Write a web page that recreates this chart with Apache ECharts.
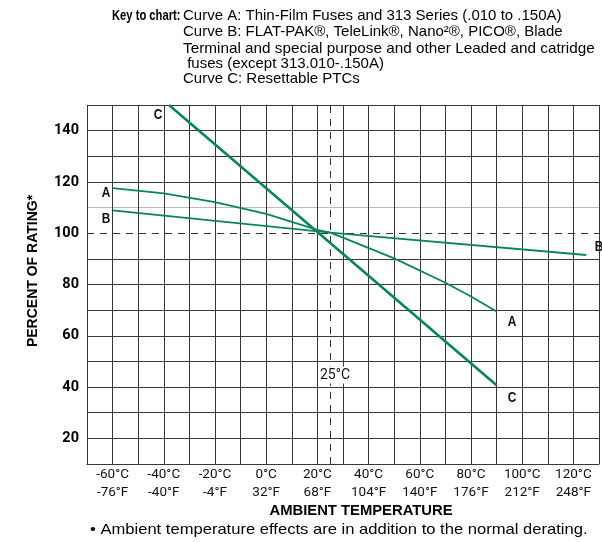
<!DOCTYPE html>
<html><head><meta charset="utf-8">
<script src="https://cdn.jsdelivr.net/npm/echarts@6/dist/echarts.min.js"></script>
<style>html,body{margin:0;padding:0;background:#fff;}#c{width:602px;height:542px;}</style>
</head><body><div id="c"></div>
<script>
// ---- data ----
const xLabelC = [-60, -40, -20, 0, 20, 40, 60, 80, 100, 120];
const xLabelF = ['-76°F', '-40°F', '-4°F', '32°F', '68°F', '104°F', '140°F', '176°F', '212°F', '248°F'];
const yLabels = [20, 40, 60, 80, 100, 120, 140];
const curveA_T = [-60, -40, -20, 0, 20, 25, 30, 50, 70, 80, 90];
const curveA_V = [117.6, 115.5, 112.1, 107.5, 101.3, 100.2, 98.3, 90.2, 80.7, 75.3, 69.5];
const curveB_T = [-60, 25, 125];
const curveB_V = [108.9, 100.2, 91.5];
const curveC_T = [-38, 20, 90];
const curveC_V = [150, 100.5, 40.7];
const refTemp = 25;
const refPct = 100;
const keyLines = [
  'Curve A: Thin-Film Fuses and 313 Series (.010 to .150A)',
  'Curve B: FLAT-PAK®, TeleLink®, Nano²®, PICO®, Blade',
  'Terminal and special purpose and other Leaded and catridge',
  ' fuses (except 313.010-.150A)',
  'Curve C: Resettable PTCs'
];

const COND = 'Roboto,"Liberation Sans",sans-serif';
const SANS = '"Liberation Sans",Arial,sans-serif';
const GREEN = '#07855d';
const GRID = '#383838';

const yMin = 10, yMax = 150, yStep = 10;
const yColors = [];
for (let v = yMin; v <= yMax; v += yStep) {
  yColors.push(v === refPct ? 'rgba(0,0,0,0)' : (v === 110 ? '#bdbdbd' : GRID));
}

const pairs = (t, v) => t.map((x, i) => [x, v[i]]);

const chart = echarts.init(document.getElementById('c'), null, {renderer: 'canvas'});

const keyY = [15.7, 32.3, 49, 63.7, 79];
const graphics = [
  {type: 'text', x: 112, y: keyY[0], scaleX: 0.8, style: {text: 'Key to chart:', font: 'bold 14px ' + SANS, fill: '#000', textVerticalAlign: 'middle'}},
];
keyLines.forEach((t, i) => graphics.push({type: 'text', x: 183, y: keyY[i], scaleX: i === 2 ? 1.02 : 1, style: {text: t, font: '15px ' + SANS, fill: '#000', textVerticalAlign: 'middle'}}));
const curveLabel = (t, x, y) => ({type: 'text', x, y, z: 10, scaleX: 0.85, style: {text: t, font: 'bold 14px ' + SANS, fill: '#111', textAlign: 'center', textVerticalAlign: 'middle'}});
graphics.push(
  {type: 'text', x: 33, y: 271, rotation: Math.PI / 2, style: {text: 'PERCENT OF RATING*', font: 'bold 14px ' + SANS, fill: '#000', textAlign: 'center', textVerticalAlign: 'middle'}},
  {type: 'text', x: 361, y: 511, style: {text: 'AMBIENT TEMPERATURE', font: 'bold 14.8px ' + SANS, fill: '#000', textAlign: 'center', textVerticalAlign: 'middle'}},
  {type: 'text', x: 90, y: 530, scaleX: 1.105, style: {text: '• Ambient temperature effects are in addition to the normal derating.', font: '15px ' + SANS, fill: '#000', textVerticalAlign: 'middle'}},
  curveLabel('C', 158, 115),
  curveLabel('A', 106, 193.5),
  curveLabel('B', 106, 219.5),
  curveLabel('A', 512, 322),
  curveLabel('C', 512, 398),
  curveLabel('B', 599, 247),
  {type: 'text', x: 335, y: 375, z: 10, style: {text: '25°C', font: '14px ' + COND, fill: '#111', textAlign: 'center', textVerticalAlign: 'middle', backgroundColor: '#fff', padding: [2, 1, 1, 1]}}
);

const lineSeries = (name, data, w) => ({
  type: 'line', name, data, symbol: 'none', smooth: false, clip: true, z: 3,
  lineStyle: {color: GREEN, width: w}, silent: true
});

chart.setOption({
  animation: false,
  backgroundColor: '#fff',
  grid: {left: 87, top: 105, width: 520, height: 359, containLabel: false},
  xAxis: {
    type: 'value', min: -70, max: 130, interval: 10,
    axisLine: {show: true, lineStyle: {color: GRID, width: 1}},
    axisTick: {show: false},
    splitLine: {show: true, lineStyle: {color: GRID, width: 1}},
    axisLabel: {
      margin: 2, color: '#111', fontFamily: COND, fontSize: 13.5, lineHeight: 18,
      showMinLabel: true, showMaxLabel: true,
      formatter: v => { const i = xLabelC.indexOf(v); return i < 0 ? '' : v + '°C\n' + xLabelF[i]; }
    }
  },
  yAxis: {
    type: 'value', min: yMin, max: yMax, interval: yStep,
    axisLine: {show: true, lineStyle: {color: GRID, width: 1}},
    axisTick: {show: false},
    splitLine: {show: true, lineStyle: {color: yColors, width: 1}},
    axisLabel: {
      margin: 8, color: '#000', fontFamily: COND, fontSize: 14.5, fontWeight: 'bold',
      formatter: v => yLabels.indexOf(v) < 0 ? '' : String(v)
    }
  },
  graphic: graphics,
  series: [
    Object.assign(lineSeries('A', pairs(curveA_T, curveA_V), 1.8), {
      markLine: {
        silent: true, symbol: 'none', label: {show: false}, z: 2,
        lineStyle: {color: '#333', width: 1, type: [7, 6]},
        data: [{yAxis: refPct}, {xAxis: refTemp}]
      }
    }),
    lineSeries('B', pairs(curveB_T, curveB_V), 1.8),
    lineSeries('C', pairs(curveC_T, curveC_V), 2.6)
  ]
});
</script></body></html>
